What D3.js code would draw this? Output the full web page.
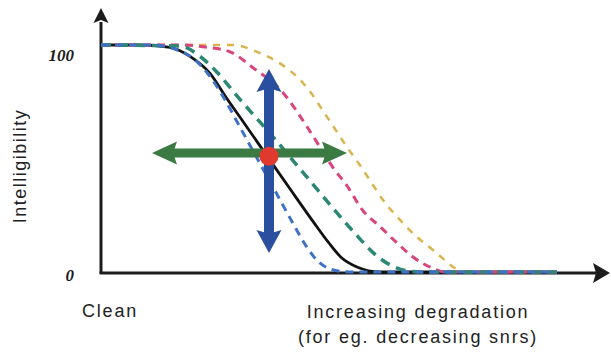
<!DOCTYPE html>
<html>
<head>
<meta charset="utf-8">
<script src="https://cdn.jsdelivr.net/npm/d3@7/dist/d3.min.js"></script>
<style>
  html, body { margin: 0; padding: 0; background: #fff; }
  svg { display: block; }
</style>
</head>
<body>
<div id="chart"></div>
<script>
// Psychometric intelligibility curves: intelligibility (%) vs. degradation level
const degradation = [0, 7.8, 13.8, 17.8, 21.8, 25, 28.5, 33.4, 38, 42.5, 45.5, 48, 51.2, 55.8, 91.2];
const baseline    = [100, 100, 99, 95, 87.5, 77, 66, 50.5, 36, 22, 13, 6.5, 2.2, 0, 0];

const blueX  = [0, 9.8, 15, 18.5, 21.5, 24.5, 28, 31.5, 35, 38.5, 41, 43.5, 46, 49.8, 91.2];
const blueY  = [100, 100, 98, 94, 87, 77, 63, 49, 35, 21, 11.5, 4.5, 1.2, 0, 0];

const tealX  = [0, 15.8, 19.8, 23.2, 27.8, 31.2, 35, 39.2, 43.2, 47.2, 50.4, 55.2, 58.4, 61.8, 64, 91.2];
const tealY  = [100, 99.5, 95, 88, 76, 67.5, 58, 47, 36.5, 26, 18, 7, 2.5, 0.3, 0, 0];

const pinkX  = [0, 15.8, 21.2, 25.8, 30.4, 36.4, 41.2, 43.8, 46.4, 49.2, 52.4, 55.8, 59.2, 62.4, 65.8, 68.8, 91.2];
const pinkY  = [100, 100, 99, 97, 90, 79, 64, 55, 46, 38, 27, 20, 12.8, 6.6, 2.2, 0, 0];

const yellowX = [0, 26.4, 31.2, 36.4, 39.2, 41.8, 44.4, 46.8, 49.2, 51.8, 54.2, 56.4, 59.8, 63.2, 66.4, 69.2, 70.4, 73.8, 91.2];
const yellowY = [100, 100, 97, 91, 86, 79.5, 71, 63, 55, 47, 39, 31.7, 23, 15.4, 9.7, 4.4, 2.2, 0, 0];

const yTickValues = [0, 100];
const yTickLabels = ["0", "100"];

// Operating point on the baseline curve and the two shift directions
const opPoint = { x: 33.6, y: 51 };
const vArrow = { x: 33.6, y0: 89.4, y1: 8.4 };
const hArrow = { y: 52.4, x0: 10.2, x1: 49.2 };

const W = 611, H = 352;
const svg = d3.select("#chart").append("svg").attr("width", W).attr("height", H);

const x = d3.scaleLinear().domain([0, 100]).range([101, 601]);
const y = d3.scaleLinear().domain([0, 100]).range([272, 45]);

const ink = "#1c1c1c";

// Block arrow (one or two heads) as a polygon in local coordinates
function blockArrow(len, sw, headL, headW, notch, both) {
  const xs = len - headL + notch * (1 - sw / headW);
  const pts = [];
  if (both) {
    const xb = headL - notch * (1 - sw / headW);
    pts.push([xb, -sw / 2]);
  } else {
    pts.push([0, -sw / 2]);
  }
  pts.push([xs, -sw / 2], [len - headL, -headW / 2], [len, 0], [len - headL, headW / 2], [xs, sw / 2]);
  if (both) {
    const xb = headL - notch * (1 - sw / headW);
    pts.push([xb, sw / 2], [headL, headW / 2], [0, 0], [headL, -headW / 2]);
  } else {
    pts.push([0, sw / 2]);
  }
  return "M" + pts.map(p => p.join(",")).join("L") + "Z";
}

function drawArrow(g, x0, y0, x1, y1, opts) {
  const len = Math.hypot(x1 - x0, y1 - y0);
  const ang = Math.atan2(y1 - y0, x1 - x0) * 180 / Math.PI;
  g.append("path")
    .attr("d", blockArrow(len, opts.sw, opts.headL, opts.headW, opts.notch, opts.both))
    .attr("transform", `translate(${x0},${y0}) rotate(${ang})`)
    .attr("fill", opts.fill);
}

// Axes
const axes = svg.append("g");
axes.append("line")
  .attr("x1", x(0)).attr("y1", y(0) + 1)
  .attr("x2", x(0)).attr("y2", 22)
  .attr("stroke", ink).attr("stroke-width", 3);
drawArrow(axes, x(0), y(0), x(0), 8, { sw: 0, headL: 15, headW: 15, notch: 3, both: false, fill: ink });
axes.append("line")
  .attr("x1", x(0) - 1.5).attr("y1", y(0) + 1)
  .attr("x2", 596).attr("y2", y(0) + 1)
  .attr("stroke", ink).attr("stroke-width", 3);
drawArrow(axes, x(0), y(0) + 1, 610, y(0) + 1, { sw: 0, headL: 17, headW: 20, notch: 3, both: false, fill: ink });

// Tick labels
svg.append("g").selectAll("text")
  .data(yTickValues)
  .join("text")
  .attr("x", 74)
  .attr("y", d => y(d) + (d === 100 ? 16 : 9))
  .attr("text-anchor", "end")
  .attr("font-family", "'Liberation Serif', 'DejaVu Serif', serif")
  .attr("font-style", "italic")
  .attr("font-weight", "bold")
  .attr("font-size", 17)
  .attr("fill", ink)
  .text((d, i) => yTickLabels[i]);

// Axis titles
const sans = "'Liberation Sans', Arial, sans-serif";
svg.append("text")
  .attr("transform", "translate(26,166) rotate(-90)")
  .attr("text-anchor", "middle")
  .attr("font-family", sans).attr("font-size", 18)
  .attr("letter-spacing", 1.5)
  .attr("fill", "#222")
  .text("Intelligibility");

svg.append("text")
  .attr("x", 82).attr("y", 317)
  .attr("font-family", sans).attr("font-size", 18)
  .attr("letter-spacing", 1.8)
  .attr("fill", "#222")
  .text("Clean");

const xTitle = svg.append("text")
  .attr("text-anchor", "middle")
  .attr("font-family", sans).attr("font-size", 18)
  .attr("letter-spacing", 1.8)
  .attr("fill", "#222");
xTitle.append("tspan").attr("x", 418).attr("y", 318).text("Increasing degradation");
xTitle.append("tspan").attr("x", 418).attr("y", 343).text("(for eg. decreasing snrs)");

// Curves
const line = d3.line()
  .x(d => x(d[0]))
  .y(d => y(d[1]))
  .curve(d3.curveMonotoneX);

const zip = (xs, ys) => xs.map((v, i) => [v, ys[i]]);

const curves = svg.append("g").attr("fill", "none").attr("stroke-linecap", "butt");

curves.append("path")
  .attr("d", line(zip(degradation, baseline)))
  .attr("stroke", "#111").attr("stroke-width", 2.8);

const dashed = [
  { xs: yellowX, ys: yellowY, color: "#d9b34e", w: 2.5, dash: "7,7" },
  { xs: pinkX,   ys: pinkY,   color: "#d9457a", w: 3,   dash: "8,6" },
  { xs: tealX,   ys: tealY,   color: "#2d8775", w: 3.5, dash: "10,7" },
  { xs: blueX,   ys: blueY,   color: "#3f72c6", w: 3,   dash: "8,6" }
];
dashed.forEach(s => {
  curves.append("path")
    .attr("d", line(zip(s.xs, s.ys)))
    .attr("stroke", s.color)
    .attr("stroke-width", s.w)
    .attr("stroke-dasharray", s.dash);
});

// Shift arrows and operating point
const marks = svg.append("g");
drawArrow(marks, x(hArrow.x0), y(hArrow.y), x(hArrow.x1), y(hArrow.y),
  { sw: 9, headL: 25, headW: 23, notch: 4, both: true, fill: "#3b7b43" });
drawArrow(marks, x(vArrow.x), y(vArrow.y0), x(vArrow.x), y(vArrow.y1),
  { sw: 10, headL: 23, headW: 25, notch: 4, both: true, fill: "#2a4f9f" });
marks.append("circle")
  .attr("cx", x(opPoint.x)).attr("cy", y(opPoint.y))
  .attr("r", 9.5)
  .attr("fill", "#e03a2e");
</script>
</body>
</html>
